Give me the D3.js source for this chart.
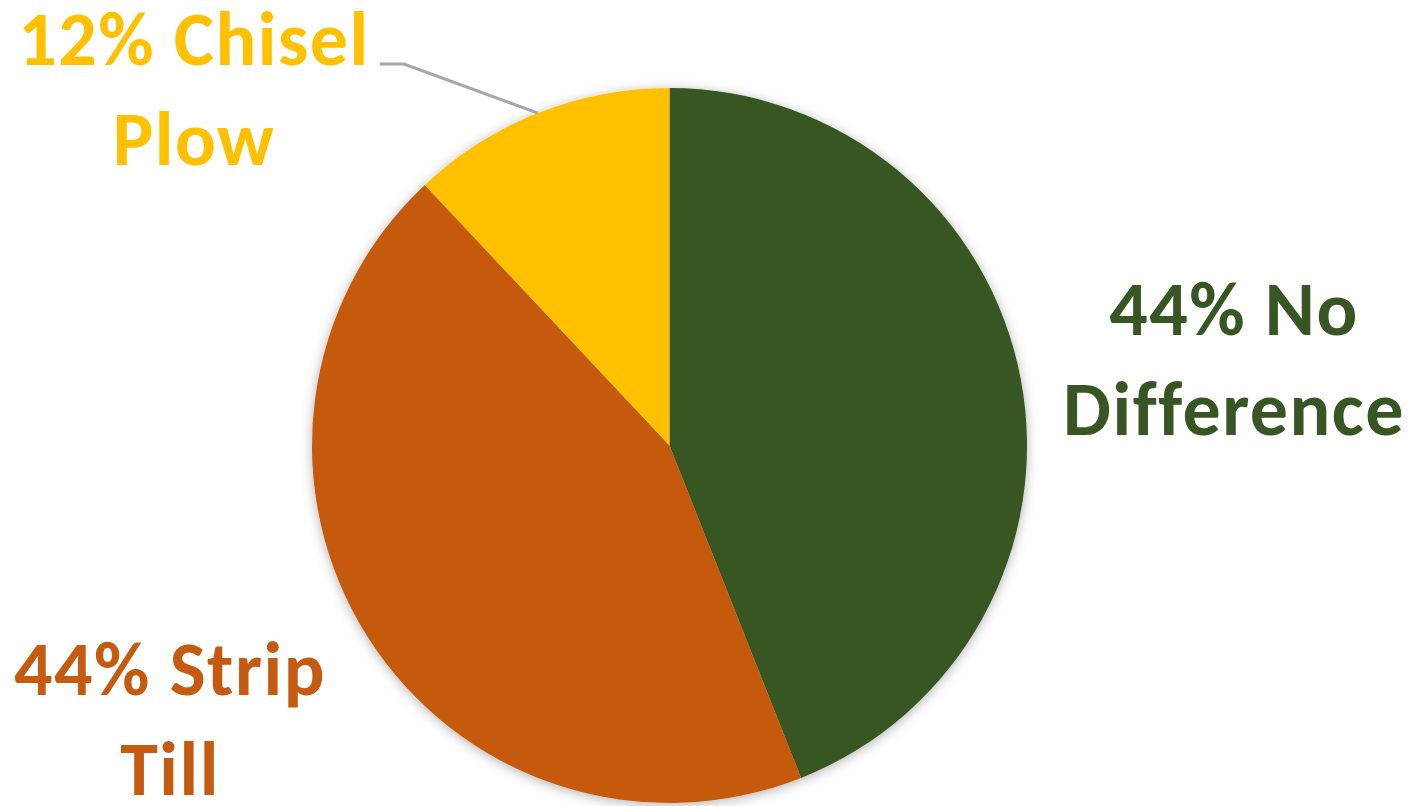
<!DOCTYPE html>
<html>
<head>
<meta charset="utf-8">
<script src="https://cdn.jsdelivr.net/npm/d3@7"></script>
<style>
  html, body { margin: 0; padding: 0; background: #ffffff; }
  svg { display: block; }
</style>
</head>
<body>
<svg id="chart" width="1416" height="806"></svg>
<script>
// Tillage preference shares
const categories = ["No Difference", "Strip Till", "Chisel Plow"];
const values = [44, 44, 12];
const colors = ["#375623", "#C55A11", "#FFC000"];

const width = 1416, height = 806;
const cx = 669.5, cy = 445.5, radius = 357.5;

// Label placement: centre x and first-line baseline for each slice label
const labelPos = [
  { x: 1234, y: 335 },
  { x: 170, y: 695 },
  { x: 194, y: 65 }
];
const lineGap = 100;

const svg = d3.select("#chart");

const defs = svg.append("defs");
const shadow = defs.append("filter")
  .attr("id", "pieShadow")
  .attr("x", "-10%").attr("y", "-10%")
  .attr("width", "120%").attr("height", "120%");
shadow.append("feDropShadow")
  .attr("dx", 0).attr("dy", 2)
  .attr("stdDeviation", 6)
  .attr("flood-color", "#000")
  .attr("flood-opacity", 0.3);

const pie = d3.pie().sort(null).value(d => d.value);
const data = pie(categories.map((c, i) => ({ category: c, value: values[i], color: colors[i] })));
const arc = d3.arc().innerRadius(0).outerRadius(radius);

const g = svg.append("g").attr("transform", `translate(${cx},${cy})`);
g.append("g")
  .attr("filter", "url(#pieShadow)")
  .selectAll("path")
  .data(data)
  .join("path")
  .attr("d", arc)
  .attr("fill", d => d.data.color);

// Leader line for the small slice
const small = data[2];
const mid = (small.startAngle + small.endAngle) / 2;
const edge = d3.pointRadial(mid, radius);
const lp = labelPos[2];
svg.append("polyline")
  .attr("points", [
    [380, lp.y - 1],
    [404, lp.y - 1],
    [cx + edge[0], cy + edge[1]]
  ].map(p => p.join(",")).join(" "))
  .attr("fill", "none")
  .attr("stroke", "#A6A6A6")
  .attr("stroke-width", 3);

// Two-line labels: "NN% first-word" / "rest"
data.forEach((d, i) => {
  const words = d.data.category.split(" ");
  const lines = [`${d.data.value}% ${words[0]}`, words.slice(1).join(" ")];
  const t = svg.append("text")
    .attr("text-anchor", "middle")
    .attr("fill", d.data.color)
    .attr("font-family", "Carlito, Calibri, Lato, sans-serif")
    .attr("font-weight", 700)
    .attr("font-size", 76)
    .attr("letter-spacing", 1.5);
  lines.forEach((line, k) => {
    t.append("tspan")
      .attr("x", labelPos[i].x)
      .attr("y", labelPos[i].y + k * lineGap)
      .text(line);
  });
});
</script>
</body>
</html>
